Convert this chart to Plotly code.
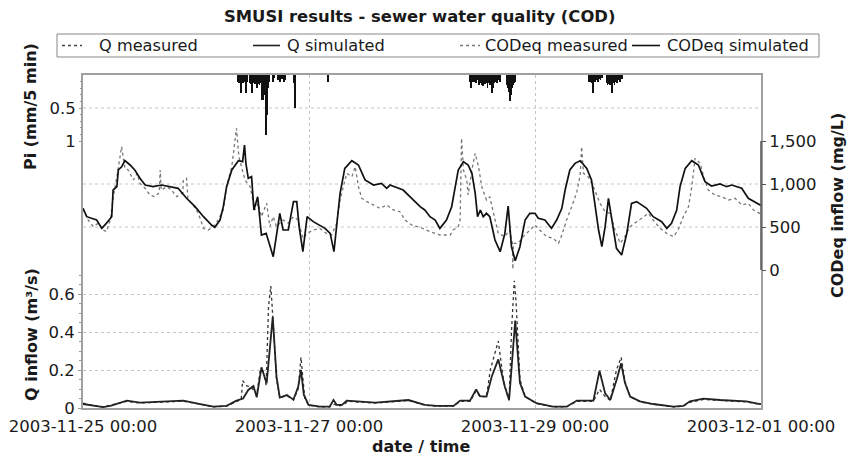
import pandas as pd
import plotly.graph_objects as go

START = pd.Timestamp("2003-11-25 00:00")

# ---- COD equivalent (mg/L) ----
cod_sim_h = [0, 0.8, 2.9, 4.0, 5.0, 6.1, 6.4, 7.2, 7.5, 8.2, 8.9, 10.0, 11.0, 12.1, 13.2, 14.9, 16.7, 18.5, 20.2, 22.0,
             23.8, 25.6, 27.3, 28.0, 29.1, 29.8, 30.5, 31.6, 33.0, 33.9, 34.3, 34.6, 35.1, 35.8, 36.3, 37.1, 37.9, 38.9,
             40.4, 41.8, 42.5, 43.6, 44.7, 45.4, 45.9, 46.7, 47.6, 48.9, 51.4, 52.5, 53.3, 54.0, 54.6, 55.6, 57.1, 58.5,
             59.9, 61.7, 63.4, 64.5, 65.2, 68.0, 70.2, 71.6, 72.6, 73.7, 74.8, 75.8, 77.2, 78.3, 79.0, 79.7, 80.8, 81.8,
             82.6, 83.3, 83.8, 84.4, 85.0, 85.7, 86.4, 87.5, 88.6, 89.6, 90.3, 91.0, 91.8, 92.8, 93.9, 94.9, 96.0, 96.7,
             98.1, 99.5, 100.6, 101.7, 102.4, 103.4, 104.5, 105.6, 107.0, 108.0, 108.7, 109.5, 110.2, 110.9, 111.6,
             112.3, 113.3, 114.4, 115.5, 116.5, 117.6, 119.7, 121.1, 122.9, 124.0, 125.0, 126.1, 126.8, 127.9, 129.3,
             130.7, 132.1, 133.5, 135.3, 136.7, 137.8, 139.9, 141.3, 143.1, 144.0]
cod_sim = [717, 620, 581, 484, 545, 620, 930, 969, 1163, 1200, 1271, 1221, 1163, 1066, 988, 969, 988, 969, 950, 834,
           736, 620, 523, 496, 581, 736, 969, 1163, 1271, 1260, 1453, 1240, 1066, 1085, 698, 852, 407, 426,
           155, 659, 465, 465, 795, 795, 504, 213, 620, 562, 484, 426, 213, 581, 891, 1182, 1271, 1221,
           1047, 988, 1008, 950, 988, 930, 814, 736, 698, 620, 581, 484, 581, 736, 950, 1163, 1260, 1221,
           1124, 891, 620, 698, 620, 659, 620, 349, 213, 426, 744, 271, 108, 271, 581, 659, 659, 601,
           581, 484, 581, 717, 930, 1163, 1240, 1271, 1182, 1047, 775, 465, 271, 504, 834,
           581, 252, 174, 426, 775, 795, 717, 620, 562, 484, 543, 698, 969, 1182, 1271,
           1221, 1027, 977, 1000, 969, 988, 950, 834, 783, 750]

cod_meas_h = [0, 1.1, 2.2, 3.3, 4.3, 5.0, 5.8, 6.4, 7.2, 7.9, 8.2, 8.9, 9.6, 10.7, 11.5, 12.1, 13.2, 14.2, 15.3, 16.2,
              16.4, 16.6, 17.8, 18.8, 19.9, 21.2, 21.3, 22.0, 22.3, 23.4, 24.5, 25.6, 26.6, 27.7, 28.7, 29.8, 30.5,
              31.6, 32.3, 32.6, 33.1, 33.7, 34.4, 35.5, 36.5, 37.2, 37.9, 39.0, 39.7, 40.4, 41.1, 42.5, 43.6, 44.7,
              45.7, 46.7, 47.6, 48.9, 50.3, 51.7, 52.8, 53.9, 54.6, 55.3, 56.0, 57.1, 57.8, 58.5, 59.2, 60.3, 61.7,
              63.1, 64.5, 65.9, 67.3, 68.4, 69.8, 71.6, 73.7, 75.8, 78.0, 78.6, 79.7, 80.1, 80.4, 80.8, 81.5, 81.8,
              82.6, 83.3, 84.0, 84.7, 85.7, 86.4, 87.2, 88.2, 89.6, 90.6, 91.2, 91.3, 91.4, 92.4, 93.5, 94.9, 96.0,
              97.0, 98.5, 99.9, 101.0, 101.7, 102.7, 103.8, 104.9, 105.6, 105.9, 106.3, 107.3, 108.4, 109.8, 110.9,
              112.0, 113.0, 114.1, 115.1, 116.2, 117.6, 119.0, 120.1, 121.1, 122.6, 124.0, 125.4, 126.4, 127.5,
              128.6, 129.3, 130.0, 131.1, 131.8, 132.8, 134.2, 135.6, 137.1, 138.5, 139.9, 141.3, 142.4, 143.8, 144.0]
cod_meas = [717, 581, 504, 545, 465, 446, 581, 834, 1085, 1318, 1434, 1182, 1163, 1047, 1124, 1008, 950, 872, 852, 900,
            1163, 930, 969, 930, 852, 900, 1047, 1066, 814, 756, 659, 484, 465, 504, 581, 698, 969,
            1201, 1512, 1647, 1318, 1201, 1047, 969, 698, 775, 620, 775, 504, 620, 504, 581, 545, 620,
            581, 368, 426, 465, 484, 426, 407, 545, 814, 969, 1124, 1085, 1201, 969, 834, 795, 756,
            717, 756, 698, 678, 581, 523, 496, 446, 407, 407, 465, 504, 581, 1531, 1163, 1047, 872,
            1163, 1357, 1201, 969, 814, 852, 659, 426, 388, 465, 310, 10, 310, 310, 388, 465, 523,
            465, 388, 368, 310, 407, 581, 736, 911, 1105, 1434, 1124, 1085, 969, 775, 678,
            659, 465, 310, 388, 504, 562, 620, 659, 581, 484, 426, 388, 465, 620,
            736, 969, 1298, 1240, 1085, 930, 872, 852, 814, 834, 756, 775, 698, 659, 650]

# ---- Q inflow (m3/s) ----
q_sim_h = [0, 2.2, 4.3, 6.0, 7.9, 9.3, 12.1, 16.4, 21.3, 24.9, 27.7, 30.5, 32.6, 34.0, 35.1, 36.2, 36.9, 37.9, 39.0,
           40.3, 41.1, 41.8, 43.3, 44.7, 45.7, 46.3, 46.9, 47.9, 50.3, 52.4, 53.2, 53.9, 55.0, 56.0, 58.8, 62.1,
           69.1, 72.6, 75.1, 78.7, 80.1, 82.2, 83.5, 84.3, 85.7, 86.8, 88.2, 89.6, 90.5, 91.8, 92.8, 93.9, 96.3,
           99.8, 102.7, 104.9, 108.4, 109.7, 110.9, 112.0, 113.4, 114.3, 115.1, 116.2, 118.3, 121.1, 125.4, 127.5,
           128.9, 131.8, 135.3, 140.9, 143.8, 144.0]
q_sim = [0.021, 0.011, 0.005, 0.012, 0.028, 0.039, 0.028, 0.032, 0.039, 0.021, 0.007, 0.011, 0.039, 0.05, 0.095,
         0.116, 0.056, 0.214, 0.13, 0.48, 0.165, 0.055, 0.068, 0.044, 0.112, 0.2, 0.07, 0.016, 0.007, 0.007, 0.042,
         0.016, 0.016, 0.039, 0.035, 0.028, 0.042, 0.016, 0.011, 0.011, 0.039, 0.039, 0.098, 0.063, 0.060, 0.165,
         0.256, 0.112, 0.042, 0.46, 0.133, 0.06, 0.025, 0.007, 0.007, 0.039, 0.039, 0.196, 0.077, 0.042, 0.154,
         0.235, 0.133, 0.06, 0.035, 0.021, 0.007, 0.011, 0.035, 0.049, 0.042, 0.035, 0.021, 0.02]

q_meas_h = [0, 2.2, 4.3, 7.9, 9.3, 12.1, 16.4, 21.3, 24.9, 27.7, 30.5, 32.6, 33.6, 33.9, 34.8, 35.5, 36.2, 36.9, 37.6,
            38.2, 38.9, 39.4, 39.9, 40.4, 41.1, 41.8, 43.3, 44.7, 45.7, 46.3, 47.1, 47.9, 50.3, 52.4, 53.4, 54.2,
            55.2, 56.3, 58.8, 62.1, 69.1, 72.6, 75.1, 78.7, 80.1, 82.2, 83.5, 84.3, 85.7, 86.5, 88.2, 89.4, 90.5,
            91.0, 91.6, 92.0, 92.8, 93.9, 96.3, 99.8, 102.7, 104.9, 108.4, 109.7, 110.9, 112.0, 113.3, 114.3, 115.1,
            116.2, 118.3, 121.1, 125.4, 127.5, 128.9, 131.8, 135.3, 140.9, 143.8, 144.0]
q_meas = [0.025, 0.013, 0.006, 0.025, 0.035, 0.026, 0.03, 0.036, 0.02, 0.006, 0.01, 0.035, 0.045, 0.144, 0.116, 0.112,
          0.095, 0.07, 0.191, 0.2, 0.12, 0.533, 0.642, 0.444, 0.15, 0.055, 0.065, 0.042, 0.1, 0.267, 0.05, 0.015,
          0.006, 0.006, 0.02, 0.01, 0.015, 0.035, 0.032, 0.026, 0.04, 0.015, 0.01, 0.01, 0.035, 0.035, 0.09, 0.06,
          0.06, 0.2, 0.352, 0.13, 0.04, 0.4, 0.67, 0.55, 0.15, 0.06, 0.024, 0.006, 0.006, 0.035, 0.035, 0.098, 0.06,
          0.04, 0.2, 0.267, 0.14, 0.06, 0.032, 0.02, 0.006, 0.01, 0.03, 0.045, 0.04, 0.032, 0.02, 0.02]

# ---- Rain Pi (mm / 5 min) ----
rain_h = [33.0, 33.2, 33.4, 33.6, 33.8, 34.0, 34.2, 34.4, 34.6, 34.8, 35.5, 35.7, 35.9, 36.1, 36.3, 36.5, 36.7, 36.9,
          37.1, 37.3, 37.5, 37.7, 37.9, 38.1, 38.3, 38.5, 38.7, 38.9, 39.1, 39.3, 39.5, 40.3, 40.6, 41.4, 41.8, 42.2,
          42.6, 43.0, 44.8, 45.0, 52.0,
          82.2, 82.4, 82.6, 82.9, 83.2, 83.5, 83.8, 84.1, 84.4, 84.7, 85.0, 85.3, 85.6, 85.9, 86.2, 86.5, 86.8, 87.1,
          87.4, 87.7, 88.0, 88.3, 88.6, 90.0, 90.2, 90.4, 90.6, 90.8, 91.0, 91.2, 91.4, 91.6, 91.8,
          107.5, 107.7, 107.9, 108.1, 108.4, 108.7, 109.0, 109.3, 109.6, 109.9, 110.2, 111.2, 111.4, 111.6, 111.8,
          112.0, 112.3, 112.6, 112.9, 113.2, 113.5, 113.8, 114.1, 114.4]
rain_mm = [0.10, 0.12, 0.08, 0.28, 0.10, 0.12, 0.10, 0.06, 0.28, 0.10, 0.12, 0.13, 0.28, 0.12, 0.10, 0.13, 0.12, 0.20,
           0.10, 0.13, 0.15, 0.12, 0.38, 0.20, 0.38, 0.15, 0.30, 0.91, 0.60, 0.20, 0.10, 0.10, 0.05, 0.08, 0.10, 0.06,
           0.10, 0.08, 0.12, 0.50, 0.10,
           0.10, 0.20, 0.08, 0.10, 0.10, 0.12, 0.08, 0.15, 0.12, 0.15, 0.17, 0.13, 0.12, 0.20, 0.12, 0.15, 0.28, 0.20,
           0.12, 0.10, 0.12, 0.08, 0.10, 0.15, 0.20, 0.25, 0.40, 0.35, 0.30, 0.20, 0.15, 0.12, 0.10,
           0.10, 0.08, 0.10, 0.12, 0.28, 0.10, 0.08, 0.10, 0.06, 0.08, 0.05, 0.12, 0.15, 0.10, 0.13,
           0.15, 0.28, 0.12, 0.15, 0.10, 0.12, 0.08, 0.10, 0.06]

x_ticks = ["2003-11-25 00:00", "2003-11-27 00:00", "2003-11-29 00:00", "2003-12-01 00:00"]
q_ticks = [0, 0.2, 0.4, 0.6]
cod_ticks = [0, 500, 1000, 1500]
pi_ticks = [0.5, 1]


def to_t(hours):
    return START + pd.to_timedelta(hours, unit="h")


FONT = "DejaVu Sans"
TXT = "#1a1a1a"

fig = go.Figure()
fig.add_trace(go.Bar(x=to_t(rain_h), y=rain_mm, yaxis="y3", marker=dict(color="#111", line=dict(width=0)),
                     width=11 * 60 * 1000, name="Pi"))
fig.add_trace(go.Scatter(x=to_t(cod_meas_h), y=cod_meas, yaxis="y2", mode="lines", name="CODeq measured",
                         line=dict(color="#777", width=1.3, dash="dot")))
fig.add_trace(go.Scatter(x=to_t(cod_sim_h), y=cod_sim, yaxis="y2", mode="lines", name="CODeq simulated",
                         line=dict(color="#111", width=1.7)))
fig.add_trace(go.Scatter(x=to_t(q_meas_h), y=q_meas, mode="lines", name="Q measured",
                         line=dict(color="#333", width=1.3, dash="dot")))
fig.add_trace(go.Scatter(x=to_t(q_sim_h), y=q_sim, mode="lines", name="Q simulated",
                         line=dict(color="#222", width=1.8)))

W, H = 860, 464
L, R, T, B = 83, 761, 75, 408
pw, ph = R - L, B - T


def px(x):
    return (x - L) / pw


def py(y):
    return (B - y) / ph


grid = dict(color="#c4c4c4", width=1, dash="dot")
shapes = [
    dict(type="line", xref="paper", yref="y3", x0=0, x1=1, y0=0.5, y1=0.5, line=grid, layer="below"),
    dict(type="line", xref="paper", yref="y2", x0=0, x1=1, y0=500, y1=500, line=grid, layer="below"),
    dict(type="line", xref="paper", yref="y2", x0=0, x1=1, y0=1000, y1=1000, line=grid, layer="below"),
    dict(type="line", xref="paper", yref="y2", x0=1, x1=1, y0=0, y1=1500, line=dict(color="#555", width=1.5)),
]
# legend box
shapes.append(dict(type="rect", xref="paper", yref="paper", x0=px(57), x1=px(819), y0=py(57), y1=py(34),
                   line=dict(color="#888", width=1), fillcolor="white"))
leg_items = [
    ("Q measured", 62, 82, 97, "dot", "#444"),
    ("Q simulated", 253, 280, 285, "solid", "#222"),
    ("CODeq measured", 460, 480, 483, "dot", "#777"),
    ("CODeq simulated", 632, 660, 665, "solid", "#111"),
]
annotations = []
for name, x0, x1, xt, dash, col in leg_items:
    shapes.append(dict(type="line", xref="paper", yref="paper", x0=px(x0), x1=px(x1), y0=py(45.5), y1=py(45.5),
                       line=dict(color=col, width=1.3 if dash == "dot" else 1.6, dash=dash)))
    annotations.append(dict(text=name, xref="paper", yref="paper", x=px(xt), y=py(45.5), xanchor="left",
                            yanchor="middle", showarrow=False, font=dict(family=FONT, size=16.2, color=TXT)))

bold = dict(family=FONT, size=16, color=TXT, weight="bold")
annotations += [
    dict(text="SMUSI results - sewer water quality (COD)", xref="paper", yref="paper", x=px(419), y=py(16),
         xanchor="center", yanchor="middle", showarrow=False, font=dict(family=FONT, size=16.4, color=TXT,
                                                                         weight="bold")),
    dict(text="Pi (mm/5 min)", xref="paper", yref="paper", x=px(30), y=py(106), textangle=-90,
         xanchor="center", yanchor="middle", showarrow=False, font=bold),
    dict(text="Q inflow (m³/s)", xref="paper", yref="paper", x=px(31), y=py(335), textangle=-90,
         xanchor="center", yanchor="middle", showarrow=False, font=bold),
    dict(text="CODeq inflow (mg/L)", xref="paper", yref="paper", x=px(837), y=py(206), textangle=-90,
         xanchor="center", yanchor="middle", showarrow=False, font=bold),
    dict(text="date / time", xref="paper", yref="paper", x=px(421), y=py(446),
         xanchor="center", yanchor="middle", showarrow=False, font=bold),
]

tickfont = dict(family=FONT, size=16.5, color=TXT)
q_px_per_unit = 190.0
cod_zero_y, cod_px_per_unit = 270.0, 129.0 / 1500
pi_px_per_unit = 66.0

fig.update_layout(
    width=W, height=H,
    margin=dict(l=L, r=W - R, t=T, b=H - B, autoexpand=False),
    paper_bgcolor="white", plot_bgcolor="white",
    showlegend=False, bargap=0,
    shapes=shapes, annotations=annotations,
    xaxis=dict(type="date", range=[to_t(0), to_t(144)], tickvals=pd.to_datetime(x_ticks), ticktext=x_ticks,
               tickfont=tickfont, ticks="outside", ticklen=2, tickcolor="rgba(0,0,0,0)",
               showgrid=True, gridcolor="#c4c4c4", griddash="dot", gridwidth=1,
               showline=True, linecolor="#a0a0a0", linewidth=2, mirror=True, zeroline=False, automargin=False),
    yaxis=dict(range=[0, ph / q_px_per_unit], tickvals=q_ticks, ticktext=["0", "0.2", "0.4", "0.6"],
               tickfont=tickfont, ticks="outside", ticklen=3, tickcolor="#999",
               minor=dict(tickvals=[0.05, 0.1, 0.15, 0.25, 0.3, 0.35, 0.45, 0.5, 0.55, 0.65, 0.7],
                          ticks="outside", ticklen=2, tickcolor="#999"),
               showgrid=True, gridcolor="#c4c4c4", griddash="dot", gridwidth=1,
               showline=True, linecolor="#a0a0a0", linewidth=2, mirror=True, zeroline=False, automargin=False),
    yaxis2=dict(overlaying="y", side="right", anchor="x",
                range=[-(B - cod_zero_y) / cod_px_per_unit, (cod_zero_y - T) / cod_px_per_unit],
                tickvals=cod_ticks, tickformat=",d", tickfont=tickfont, ticks="outside", ticklen=4,
                tickcolor="#555", showgrid=False, showline=False, zeroline=False, automargin=False),
    yaxis3=dict(overlaying="y", side="left", anchor="x", range=[ph / pi_px_per_unit, 0],
                tickvals=pi_ticks, ticktext=["0.5", "1"], tickfont=tickfont, ticks="outside", ticklen=3,
                tickcolor="#999",
                minor=dict(tickvals=[0.1, 0.2, 0.3, 0.4, 0.6, 0.7, 0.8, 0.9], ticks="outside", ticklen=2,
                           tickcolor="#999"),
                showgrid=False, showline=False, zeroline=False, automargin=False),
)

fig.write_html("out.html", config={"displayModeBar": False},
               post_script="document.body.style.margin='0px';")
